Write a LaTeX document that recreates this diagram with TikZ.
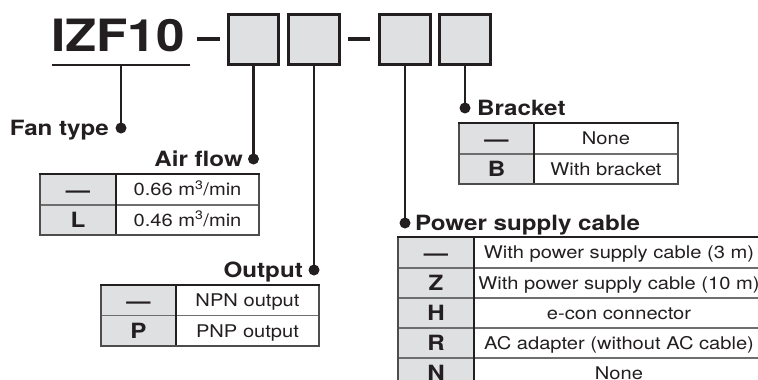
\documentclass[tikz,border=0pt]{standalone}
\usepackage{fontspec}
\setmainfont{TeX Gyre Heros}[FakeStretch=1.15]
\definecolor{ink}{HTML}{231F20}
\definecolor{boxfill}{HTML}{DFE0E2}
\definecolor{rulegray}{HTML}{6E6E6E}
\begin{document}
\begin{tikzpicture}[x=1pt,y=-1pt,
  codebox/.style={draw=ink, line width=2.8pt, fill=boxfill, inner sep=0pt, minimum width=50.5pt, minimum height=50.5pt},
  conn/.style={draw=ink, line width=2.6pt},
  dotn/.style={circle, fill=ink, inner sep=0pt, minimum size=11pt},
  head/.style={font=\fontsize{21}{21}\selectfont\bfseries, inner sep=0pt, text=ink},
  cell/.style={font=\fontsize{17.5}{17.5}\selectfont, inner sep=0pt, text height=12.5pt, text depth=0pt, anchor=center, text=ink},
  keycell/.style={font=\fontsize{21}{21}\selectfont\bfseries, inner sep=0pt, text height=15.1pt, text depth=0pt, anchor=center, text=ink},
  keyfill/.style={fill=boxfill},
  rowrule/.style={draw=rulegray, line width=1.2pt},
  colrule/.style={draw=ink, line width=1.2pt},
  frame/.style={draw=ink!80, line width=1.6pt},
  toprule/.style={draw=ink, line width=2.6pt},
  dashbar/.style={draw=ink, line width=3.8pt},
]
\useasboundingbox (0,0) rectangle (758,380);
\fill[white] (0,0) rectangle (758,380);
\clip (0,0) rectangle (758,380);

% ---- title and code boxes
\node[anchor=base west, inner sep=0pt, text=ink, font=\fontsize{44.5}{44.5}\selectfont\bfseries] (title) at (51,51) {IZF10};
\coordinate (ulA) at (52,65);
\coordinate (ulB) at (190,65);
\draw[draw=ink, line width=2.4pt] (ulA) -- (ulB);
\coordinate (fanstart) at (121,65);

\coordinate (d1a) at (197,39); \coordinate (d1b) at (220,39);
\coordinate (d2a) at (348,39); \coordinate (d2b) at (370,39);
\draw[dashbar] (d1a) -- (d1b);
\draw[dashbar] (d2a) -- (d2b);

\node[codebox] (b1) at (253.5,39.5) {};
\node[codebox, minimum width=51.5pt] (b2) at (314,39.5) {};
\node[codebox] (b3) at (405,39.5) {};
\node[codebox] (b4) at (465,39.5) {};

% ---- dots
\node[dotn] (fandot) at (121,128) {};
\node[dotn] (afdot) at (253.5,159) {};
\node[dotn] (outdot) at (314,270) {};
\node[dotn] (brdot) at (465,108) {};
\node[dotn] (pwdot) at (405,223) {};

% ---- connectors
\draw[conn] (fanstart) -- (fandot.center);
\draw[conn] (b1.south) -- (afdot.center);
\draw[conn] (b2.south) -- (outdot.center);
\draw[conn] (b3.south) -- (pwdot.center);
\draw[conn] (b4.south) -- (brdot.center);

% ---- headings
\node[head, anchor=base east] (fantxt) at (109,135) {Fan type};
\node[head, anchor=base east] (aftxt) at (243,166) {Air flow};
\node[head, anchor=base east] (outtxt) at (303,277) {Output};
\node[head, anchor=base west] (brtxt) at (477,115) {Bracket};
\node[head, anchor=base west] (pwtxt) at (415,230) {Power supply cable};

% ---- Air flow table
\fill[keyfill] (40,174) rectangle (116,235);
\draw[rowrule] (40,205) -- (259,205);
\draw[colrule] (116,174) -- (116,235);
\draw[frame] (40,174) -- (40,235) -- (259,235) -- (259,174);
\draw[toprule] (39,174) -- (260,174);
\node[keycell] (af1k) at (78,189.5) {—};
\node[cell] (af1v) at (187.5,189.5) {0.66 m\textsuperscript{3}/min};
\node[keycell] (af2k) at (78,220) {L};
\node[cell] (af2v) at (187.5,220) {0.46 m\textsuperscript{3}/min};

% ---- Output table
\fill[keyfill] (101,285) rectangle (176,346);
\draw[rowrule] (101,315.5) -- (319,315.5);
\draw[colrule] (176,285) -- (176,346);
\draw[frame] (101,285) -- (101,346) -- (319,346) -- (319,285);
\draw[toprule] (100,285) -- (320,285);
\node[keycell] (o1k) at (138.5,300.5) {—};
\node[cell] (o1v) at (247.5,300.5) {NPN output};
\node[keycell] (o2k) at (138.5,331) {P};
\node[cell] (o2v) at (247.5,331) {PNP output};

% ---- Bracket table
\fill[keyfill] (459,123) rectangle (534,184);
\draw[rowrule] (459,154) -- (678,154);
\draw[colrule] (534,123) -- (534,184);
\draw[frame] (459,123) -- (459,184) -- (678,184) -- (678,123);
\draw[toprule] (458,123) -- (679,123);
\node[keycell] (br1k) at (496.5,138.5) {—};
\node[cell] (br1v) at (606,138.5) {None};
\node[keycell] (br2k) at (496.5,169) {B};
\node[cell] (br2v) at (606,169) {With bracket};

% ---- Power supply cable table
\fill[keyfill] (398,237) rectangle (474,388);
\draw[rowrule] (398,268) -- (770,268);
\draw[rowrule] (398,298) -- (770,298);
\draw[rowrule] (398,328) -- (770,328);
\draw[rowrule] (398,358) -- (770,358);
\draw[colrule] (474,237) -- (474,388);
\draw[frame] (398,237) -- (398,388) -- (770,388);
\draw[toprule] (397,237) -- (770,237);
\node[keycell] (p1k) at (436,252.5) {—};
\node[cell] (p1v) at (619,252.5) {With power supply cable (3 m)};
\node[keycell] (p2k) at (436,283) {Z};
\node[cell] (p2v) at (619,283) {With power supply cable (10 m)};
\node[keycell] (p3k) at (436,313) {H};
\node[cell] (p3v) at (619,313) {e-con connector};
\node[keycell] (p4k) at (436,343) {R};
\node[cell] (p4v) at (619,343) {AC adapter (without AC cable)};
\node[keycell] (p5k) at (436,373) {N};
\node[cell] (p5v) at (619,373) {None};
\end{tikzpicture}
\end{document}
